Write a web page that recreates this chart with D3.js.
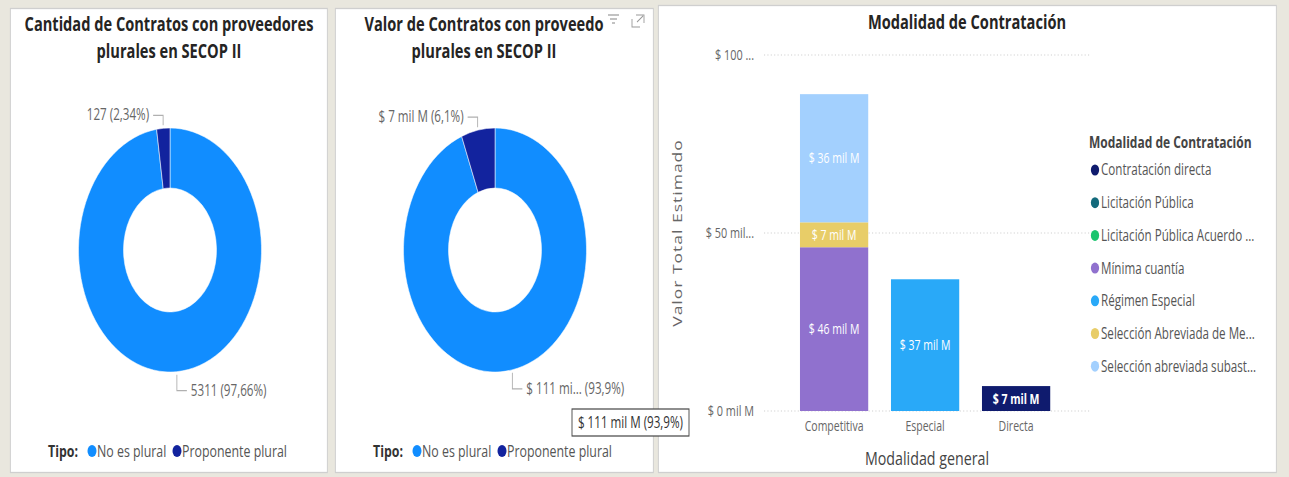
<!DOCTYPE html>
<html><head><meta charset="utf-8">
<script src="https://cdn.jsdelivr.net/npm/d3@7"></script>
<style>body{margin:0;background:#e9e7de;overflow:hidden}svg{display:block}</style>
</head><body><svg id="c" width="1289" height="477"></svg>
<script>
// ---------- DATA ----------
const tipos = ["No es plural", "Proponente plural"];
const tipoColores = ["#118DFF", "#12239E"];
const cantidadValores = [5311, 127];
const cantidadEtiquetas = ["5311 (97,66%)", "127 (2,34%)"];
const valorValores = [111, 7]; // mil M
const valorEtiquetas = ["$ 111 mi... (93,9%)", "$ 7 mil M (6,1%)"];
const tooltipTexto = "$ 111 mil M (93,9%)";

const modalidadesGenerales = ["Competitiva", "Especial", "Directa"];
const modalidades = ["Contratación directa", "Licitación Pública", "Licitación Pública Acuerdo ...", "Mínima cuantía", "Régimen Especial", "Selección Abreviada de Me...", "Selección abreviada subast..."];
const modalidadColores = ["#0F1B6E", "#136A7C", "#1BC56E", "#9071CE", "#29A9F8", "#E8CD68", "#A3D0FE"];
const contratacionDirecta = [0, 0, 7];
const licitacionPublica = [0, 0, 0];
const licitacionAcuerdo = [0, 0, 0];
const minimaCuantia = [46, 0, 0];
const regimenEspecial = [0, 37, 0];
const seleccionAbreviadaMenor = [7, 0, 0];
const seleccionSubasta = [36, 0, 0];
const yTicks = [0, 50, 100];
const yTickLabels = ["$ 0 mil M", "$ 50 mil...", "$ 100 ..."];

// ---------- SETUP ----------
const SX = 0.75;            // horizontal squeeze of the reference
const X = v => v / SX;      // screen x -> internal x
const FONT = "'Open Sans', 'Noto Sans', sans-serif";
const svg = d3.select("#c");
const root = svg.append("g").attr("transform", `scale(${SX},1)`).style("font-family", FONT);

// panels
const panels = [[10, 8, 317, 464], [335, 8, 318, 464], [658, 5, 618, 467]];
panels.forEach(p => {
  root.append("rect").attr("x", X(p[0]) + 0.5).attr("y", p[1] + 0.5)
    .attr("width", X(p[2])).attr("height", p[3])
    .attr("fill", "#fff").attr("stroke", "#cfcfcf").attr("stroke-width", 1.3);
});

function title(lines, cx, y0, size) {
  const t = root.append("text").attr("text-anchor", "middle").attr("font-size", size)
    .attr("font-weight", 700).attr("fill", "#252423");
  lines.forEach((l, i) => t.append("tspan").attr("x", X(cx)).attr("y", y0 + i * 27).text(l));
}

// ---------- DONUTS ----------
function donut(cx, cy, values, labels, labelSides) {
  const g = root.append("g").attr("transform", `translate(${X(cx)},${cy})`);
  const rOut = 122, rIn = 62;
  const pie = d3.pie().sort(null).value(d => d)(values);
  const arc = d3.arc().innerRadius(rIn).outerRadius(rOut);
  g.selectAll("path").data(pie).join("path").attr("d", arc)
    .attr("fill", (d, i) => tipoColores[i]).attr("stroke", "#fff").attr("stroke-width", 0.6);
  pie.forEach((d, i) => {
    const a = (d.startAngle + d.endAngle) / 2;
    const px = Math.sin(a) * (rOut + 3), py = -Math.cos(a) * (rOut + 3);
    const up = py < 0;
    const ly = up ? py - 10 : py + 16;
    const dir = labelSides[i];
    const lx = px + dir * X(10);
    g.append("path").attr("d", `M${px},${py}L${px},${ly}L${lx},${ly}`)
      .attr("fill", "none").attr("stroke", "#b0b0b0").attr("stroke-width", 1.2);
    g.append("text").attr("x", lx + dir * X(4)).attr("y", ly + 5)
      .attr("text-anchor", dir < 0 ? "end" : "start").attr("font-size", 15.5).attr("fill", "#666")
      .text(labels[i]);
  });
}

function tipoLegend(x0, y) {
  const g = root.append("g");
  g.append("text").attr("x", X(x0)).attr("y", y + 6).attr("font-size", 16.5).attr("font-weight", 700)
    .attr("fill", "#333").text("Tipo:");
  const starts = [x0 + 44, x0 + 129];
  tipos.forEach((t, i) => {
    g.append("circle").attr("cx", X(starts[i])).attr("cy", y).attr("r", 6).attr("fill", tipoColores[i]);
    g.append("text").attr("x", X(starts[i] + 5)).attr("y", y + 6).attr("font-size", 16.5)
      .attr("fill", "#555").text(t);
  });
}

title(["Cantidad de Contratos con proveedores", "plurales en SECOP II"], 169, 31, 19.5);
donut(170, 250, cantidadValores, cantidadEtiquetas, [1, -1]);
tipoLegend(48, 451);

title(["Valor de Contratos con proveedo", "plurales en SECOP II"], 484, 31, 19.5);
donut(495, 250, valorValores, valorEtiquetas, [1, -1]);
tipoLegend(373, 451);

// icons on panel 2
const ic = root.append("g").attr("stroke", "#9a9a9a").attr("fill", "none").attr("stroke-width", 1.2);
[[608, 619, 15], [610, 617, 19], [612, 615, 23]].forEach(l =>
  ic.append("line").attr("x1", X(l[0])).attr("x2", X(l[1])).attr("y1", l[2]).attr("y2", l[2]));
ic.append("path").attr("d", `M${X(632)},19V27H${X(640)}M${X(636)},15H${X(644)}V23M${X(637)},22L${X(643)},16`);

// ---------- STACKED BARS ----------
title(["Modalidad de Contratación"], 967, 29, 19.5);
const seriesByKey = [contratacionDirecta, licitacionPublica, licitacionAcuerdo, minimaCuantia, regimenEspecial, seleccionAbreviadaMenor, seleccionSubasta];
const table = modalidadesGenerales.map((c, j) => {
  const o = { cat: c };
  modalidades.forEach((m, k) => o[m] = seriesByKey[k][j]);
  return o;
});
const stack = d3.stack().keys(modalidades)(table);
const x = d3.scaleBand().domain(modalidadesGenerales).range([X(788.6), X(1061.6)])
  .paddingInner(0.25).paddingOuter(0.125);
const y = d3.scaleLinear().domain([0, 100]).range([411, 55]);

// gridlines
const grid = root.append("g");
yTicks.forEach(t => grid.append("line").attr("x1", X(764)).attr("x2", X(1090))
  .attr("y1", y(t)).attr("y2", y(t)).attr("stroke", "#c8c8c8").attr("stroke-width", 1)
  .attr("stroke-dasharray", "1.5,3"));

const yAxis = root.append("g").attr("transform", `translate(${X(764)},0)`)
  .call(d3.axisLeft(y).tickValues(yTicks).tickFormat((d, i) => yTickLabels[i]).tickSize(0).tickPadding(X(10)));
yAxis.select(".domain").remove();
yAxis.selectAll("text").attr("font-size", 14.5).attr("fill", "#666").style("font-family", FONT);

const bars = root.append("g");
stack.forEach((s, k) => {
  s.forEach((d, j) => {
    if (d[1] - d[0] <= 0) return;
    const cat = modalidadesGenerales[j];
    bars.append("rect").attr("x", x(cat)).attr("width", x.bandwidth())
      .attr("y", y(d[1])).attr("height", y(d[0]) - y(d[1]))
      .attr("fill", modalidadColores[k]);
    bars.append("text").attr("x", x(cat) + x.bandwidth() / 2).attr("y", (y(d[0]) + y(d[1])) / 2 + 5)
      .attr("text-anchor", "middle").attr("font-size", 14).attr("fill", "#fff")
      .attr("font-weight", k === 0 ? 700 : 400)
      .text(`$ ${d[1] - d[0]} mil M`);
  });
});

const xAxis = root.append("g").attr("transform", `translate(0,${411})`)
  .call(d3.axisBottom(x).tickSize(0).tickPadding(10));
xAxis.select(".domain").remove();
xAxis.selectAll("text").attr("font-size", 14).attr("fill", "#666").style("font-family", FONT);

root.append("text").attr("x", X(927)).attr("y", 465).attr("text-anchor", "middle")
  .attr("font-size", 19).attr("fill", "#444").text("Modalidad general");
root.append("text").attr("transform", `translate(${X(682)},233) rotate(-90)`).attr("text-anchor", "middle")
  .attr("font-size", 17.5).attr("letter-spacing", 1).attr("fill", "#666").text("Valor Total Estimado");

// legend
const lg = root.append("g");
lg.append("text").attr("x", X(1089)).attr("y", 148).attr("font-size", 16).attr("font-weight", 700)
  .attr("fill", "#444").text("Modalidad de Contratación");
modalidades.forEach((m, i) => {
  const yy = 170 + i * 32.7;
  lg.append("circle").attr("cx", X(1095)).attr("cy", yy).attr("r", 5.5).attr("fill", modalidadColores[i]);
  lg.append("text").attr("x", X(1101)).attr("y", yy + 5.5).attr("font-size", 15.5).attr("fill", "#555").text(m);
});

// tooltip
root.append("rect").attr("x", X(572)).attr("y", 409).attr("width", X(117)).attr("height", 27)
  .attr("fill", "#fff").attr("stroke", "#444").attr("stroke-width", 1.2);
root.append("text").attr("x", X(630.5)).attr("y", 428).attr("text-anchor", "middle")
  .attr("font-size", 15.5).attr("fill", "#333").text(tooltipTexto);
</script></body></html>
